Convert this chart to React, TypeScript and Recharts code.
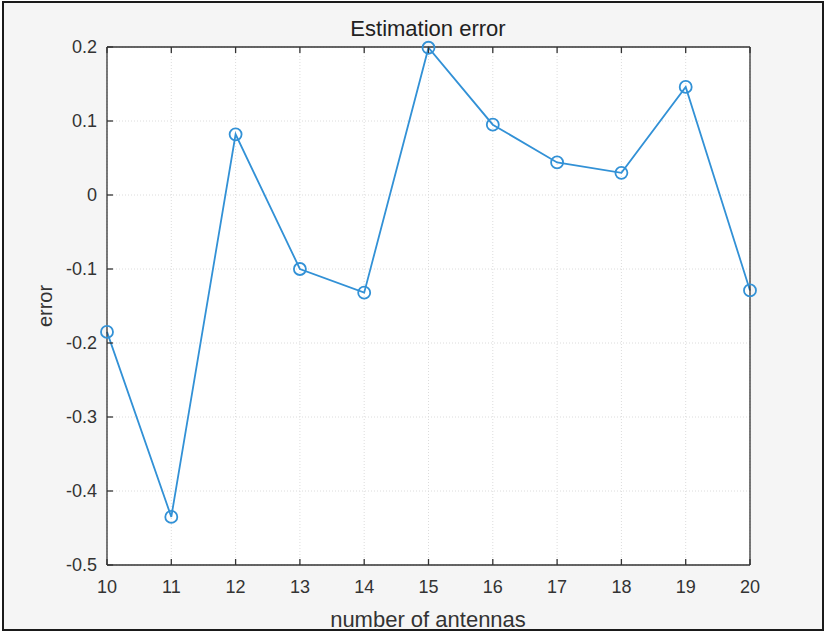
import { LineChart, Line, XAxis, YAxis, CartesianGrid } from "recharts";

/* ── Данные ─────────────────────────────────────────── */
const antennas = [10, 11, 12, 13, 14, 15, 16, 17, 18, 19, 20];
const errorValues = [
	-0.185, -0.435, 0.082, -0.1, -0.132, 0.199, 0.095, 0.044, 0.03, 0.146, -0.129,
];
const xTicks = [10, 11, 12, 13, 14, 15, 16, 17, 18, 19, 20];
const yTicks = [-0.5, -0.4, -0.3, -0.2, -0.1, 0, 0.1, 0.2];

const data = antennas.map((n, i) => ({ n, err: errorValues[i] }));

const W = 827;
const H = 633;
const AXIS = "#333";
const LINE = "#3291d6";
const FONT = "'Liberation Sans', Arial, sans-serif";

/* ── Тики внутрь, как в MATLAB ───────────────────────── */
const BottomTick = ({ x, y, payload }: any) => (
	<g>
		<line x1={x} y1={y} x2={x} y2={y - 6} stroke={AXIS} strokeWidth={1.3} />
		<text x={x} y={y + 28} textAnchor="middle" fontSize={18} fill="#333" fontFamily={FONT}>
			{payload.value}
		</text>
	</g>
);

const LeftTick = ({ x, y, payload }: any) => (
	<g>
		<line x1={x} y1={y} x2={x + 6} y2={y} stroke={AXIS} strokeWidth={1.3} />
		<text x={x - 10} y={y + 6} textAnchor="end" fontSize={18} fill="#333" fontFamily={FONT}>
			{payload.value === 0 ? "0" : String(payload.value)}
		</text>
	</g>
);

const TopTick = ({ x, y }: any) => (
	<line x1={x} y1={y} x2={x} y2={y + 6} stroke={AXIS} strokeWidth={1.3} />
);

const RightTick = ({ x, y }: any) => (
	<line x1={x} y1={y} x2={x - 6} y2={y} stroke={AXIS} strokeWidth={1.3} />
);

export default function App() {
	return (
		<div
			style={{
				position: "absolute",
				left: 0,
				top: 0,
				width: W,
				height: H,
				background: "#fff",
			}}
		>
			<div
				style={{
					position: "absolute",
					left: 2,
					top: 1,
					width: 822,
					height: 630,
					boxSizing: "border-box",
					border: "2.5px solid #1a1a1a",
					background: "#f5f5f5",
				}}
			/>
			<div style={{ position: "absolute", left: 0, top: 0 }}>
				<LineChart
					width={W}
					height={H}
					data={data}
					margin={{ top: 37, right: 67, bottom: 38, left: 47 }}
				>
					<CartesianGrid strokeDasharray="1 2" stroke="#dcdcdc" fill="#fff" />
					<XAxis
						dataKey="n"
						type="number"
						domain={[10, 20]}
						ticks={xTicks}
						height={30}
						tickSize={0}
						tickMargin={0}
						tickLine={false}
						tick={<BottomTick />}
						axisLine={{ stroke: AXIS, strokeWidth: 1.3 }}
					/>
					<XAxis
						xAxisId="top"
						orientation="top"
						dataKey="n"
						type="number"
						domain={[10, 20]}
						ticks={xTicks}
						height={10}
						tickSize={0}
						tickMargin={0}
						tickLine={false}
						tick={<TopTick />}
						axisLine={{ stroke: AXIS, strokeWidth: 1.3 }}
					/>
					<YAxis
						type="number"
						domain={[-0.5, 0.2]}
						ticks={yTicks}
						width={60}
						tickSize={0}
						tickMargin={0}
						tickLine={false}
						tick={<LeftTick />}
						axisLine={{ stroke: AXIS, strokeWidth: 1.3 }}
					/>
					<YAxis
						yAxisId="right"
						orientation="right"
						type="number"
						domain={[-0.5, 0.2]}
						ticks={yTicks}
						width={10}
						tickSize={0}
						tickMargin={0}
						tickLine={false}
						tick={<RightTick />}
						axisLine={{ stroke: AXIS, strokeWidth: 1.3 }}
					/>
					<Line
						dataKey="err"
						stroke={LINE}
						strokeWidth={1.8}
						dot={{ r: 6, fill: "none", stroke: LINE, strokeWidth: 1.8 }}
						isAnimationActive={false}
					/>
				</LineChart>
			</div>
			{/* Заголовок и подписи осей */}
			<svg
				width={W}
				height={H}
				style={{ position: "absolute", left: 0, top: 0, pointerEvents: "none" }}
			>
				<text x={428} y={36} textAnchor="middle" fontSize={22} fill="#222" fontFamily={FONT}>
					Estimation error
				</text>
				<text x={428} y={627} textAnchor="middle" fontSize={22} fill="#333" fontFamily={FONT}>
					number of antennas
				</text>
				<text
					x={0}
					y={0}
					transform="translate(52 306) rotate(-90)"
					textAnchor="middle"
					fontSize={20}
					fill="#333"
					fontFamily={FONT}
				>
					error
				</text>
			</svg>
		</div>
	);
}
